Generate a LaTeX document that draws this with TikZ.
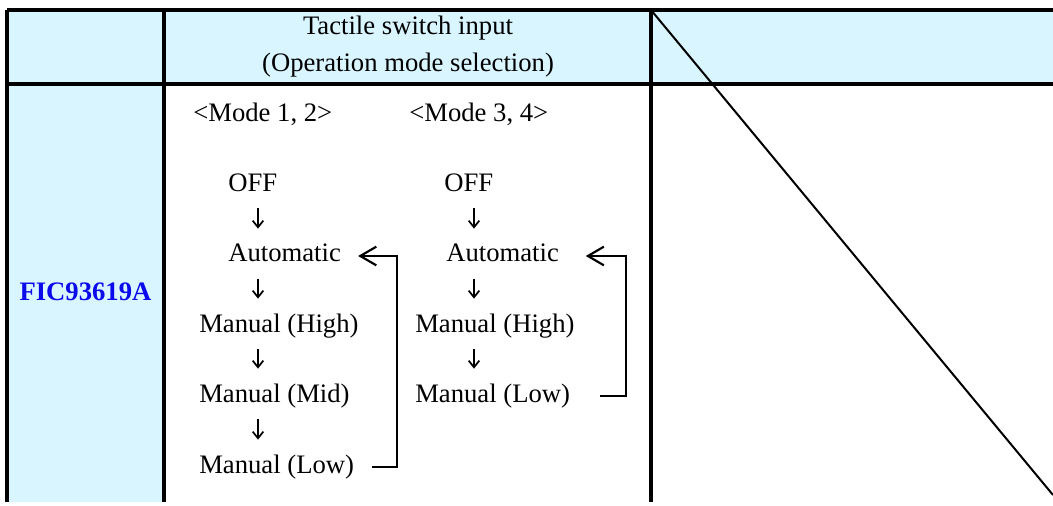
\documentclass[tikz,border=0pt]{standalone}
\usepackage{fontspec}
\setmainfont{Liberation Serif}
\usetikzlibrary{arrows.meta}
\definecolor{cellblue}{RGB}{217,245,255}
\definecolor{chipblue}{RGB}{10,10,235}

\tikzset{
  gridline/.style={line width=3pt},
  entry/.style={anchor=base west,inner sep=0pt,text height=12pt,text depth=3pt,
    font=\fontsize{20}{24}\selectfont},
  nextarrow/.style={line width=1.3pt,-{Straight Barb[length=5pt,width=8pt]},
    shorten <=9.4pt,shorten >=12.8pt},
  backarrow/.style={line width=1.6pt,-{Straight Barb[length=12pt,width=14pt]}}
}

\begin{document}
\begin{tikzpicture}[x=0.75pt,y=-0.75pt]
	\useasboundingbox (0,0) rectangle (1053,506);
	
	\fill[cellblue] (7,10) rectangle (164,502);
	\fill[cellblue] (164,10) rectangle (1053,84);
	
	\draw[gridline] (7,10) -- (1053,10);
	\draw[gridline] (7,84) -- (1053,84);
	\foreach \x in {7,164,651}
	\draw[gridline] (\x,10) -- (\x,502);
	\draw[line width=1.5pt] (651,10) -- (1053,495);
	
	\node[entry,anchor=base] (title1) at (408,34.5) {Tactile switch input};
	\node[entry,anchor=base] (title2) at (408,71.5) {(Operation mode selection)};
	\node[entry,anchor=base,font=\fontsize{20}{24}\selectfont\bfseries,text=chipblue] (chip) at (85.5,300) {FIC93619A};
	
	\node[entry] (mode12) at (193,122) {<Mode 1, 2>};
	\node[entry] (mode34) at (409,122) {<Mode 3, 4>};
	
	\node[entry] (off1) at (228,191) {OFF};
	\node[entry] (auto1) at (228,262) {Automatic};
	\node[entry] (high1) at (199,332) {Manual (High)};
	\node[entry] (mid1) at (199,402) {Manual (Mid)};
	\node[entry] (low1) at (199,473) {Manual (Low)};
	
	\node[entry] (off3) at (444,191) {OFF};
	\node[entry] (auto3) at (446,262) {Automatic};
	\node[entry] (high3) at (415,332) {Manual (High)};
	\node[entry] (low3) at (415,402) {Manual (Low)};
	
	\coordinate (col1) at (258,0);
	\coordinate (col3) at (474,0);
	\coordinate (turn1) at (397,0);
	\coordinate (turn3) at (626,0);
	
	\draw[nextarrow] (off1.south -| col1) -- (auto1.north -| col1);
	\draw[nextarrow] (auto1.south -| col1) -- (high1.north -| col1);
	\draw[nextarrow] (high1.south -| col1) -- (mid1.north -| col1);
	\draw[nextarrow] (mid1.south -| col1) -- (low1.north -| col1);
	
	\draw[nextarrow] (off3.south -| col3) -- (auto3.north -| col3);
	\draw[nextarrow] (auto3.south -| col3) -- (high3.north -| col3);
	\draw[nextarrow] (high3.south -| col3) -- (low3.north -| col3);
	
	\draw[backarrow,shorten <=13.5pt,shorten >=12.8pt] (low1.east) -- (low1.east -| turn1) -- (auto1.east -| turn1) -- (auto1.east);
	\draw[backarrow,shorten <=22.5pt,shorten >=20pt] (low3.east) -- (low3.east -| turn3) -- (auto3.east -| turn3) -- (auto3.east);
\end{tikzpicture}
\end{document}
